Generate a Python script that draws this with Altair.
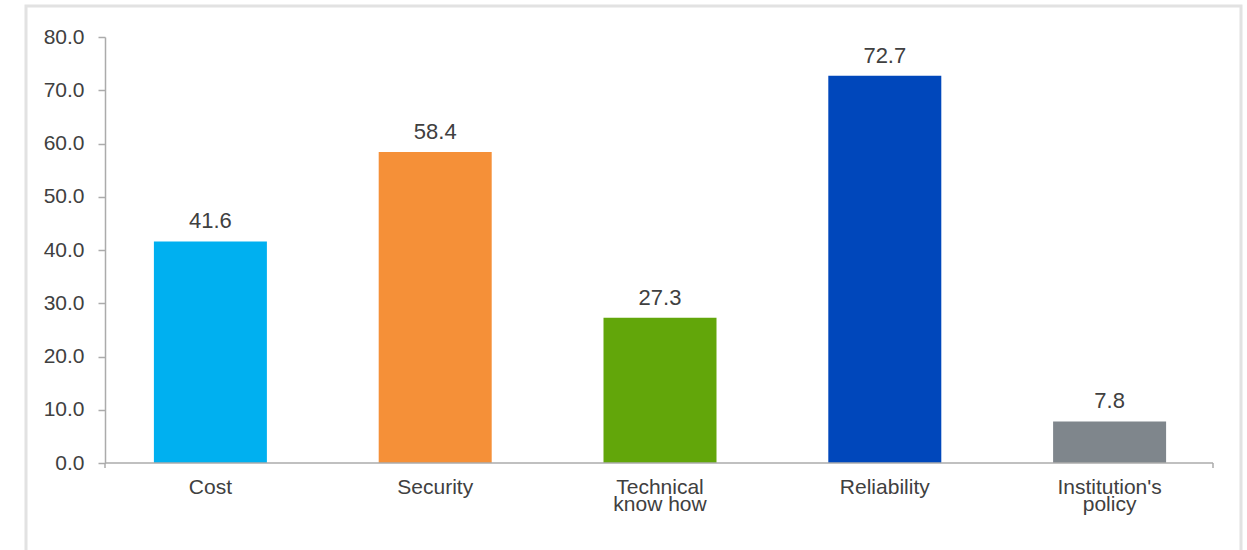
import altair as alt
import pandas as pd

categories = ["Cost", "Security", "Technical know how", "Reliability", "Institution's policy"]
values = [41.6, 58.4, 27.3, 72.7, 7.8]
colors = ["#00b0f0", "#f59038", "#62a60a", "#0047bb", "#7f868c"]
y_ticks = [0, 10, 20, 30, 40, 50, 60, 70, 80]

df = pd.DataFrame({"category": categories, "value": values, "color": colors})

W, H = 1108, 426
FONT = "Liberation Sans"
TXT = "#404040"
AX = "#ababab"

label_expr = ("datum.value == 'Technical know how' ? ['Technical', 'know how'] : "
              "datum.value == \"Institution's policy\" ? [\"Institution's\", 'policy'] : datum.value")

x_enc = alt.X("category:N", sort=categories,
              scale=alt.Scale(range=[-7, 1117], paddingInner=0, paddingOuter=0),
              axis=alt.Axis(title=None, domain=False, ticks=False, labelAngle=0,
                            labelFont=FONT, labelFontSize=21, labelColor=TXT,
                            labelPadding=13, labelLineHeight=17, labelExpr=label_expr))
y_enc = alt.Y("value:Q", scale=alt.Scale(domain=[0, 80], nice=False),
              axis=alt.Axis(title=None, values=y_ticks, format=".1f", grid=False,
                            domainColor=AX, domainWidth=1.5, tickColor=AX, tickWidth=1.5,
                            tickSize=7, labelPadding=14, labelFont=FONT, labelFontSize=21,
                            labelColor=TXT))

bars = alt.Chart(df).mark_bar(size=113).encode(
    x=x_enc, y=y_enc,
    color=alt.Color("color:N", scale=None),
)

texts = alt.Chart(df).mark_text(baseline="alphabetic", dy=-13, font=FONT, fontSize=22,
                                color=TXT).encode(
    x=x_enc, y=y_enc,
    text=alt.Text("value:Q", format=".1f"),
)

one = pd.DataFrame({"a": [0]})

frame = alt.Chart(one).mark_rect(
    fill=None, stroke="#e2e2e2", strokeWidth=3).encode(
    x=alt.value(-79), x2=alt.value(1136), y=alt.value(-31), y2=alt.value(560))

xaxis = alt.Chart(one).mark_rule(color=AX, strokeWidth=1.5).encode(
    x=alt.value(0), x2=alt.value(W), y=alt.value(H), y2=alt.value(H))
tick_l = alt.Chart(one).mark_rule(color=AX, strokeWidth=1.5).encode(
    x=alt.value(0), y=alt.value(H), y2=alt.value(H + 5))
tick_r = alt.Chart(one).mark_rule(color=AX, strokeWidth=1.5).encode(
    x=alt.value(W), y=alt.value(H), y2=alt.value(H + 5))

chart = alt.layer(bars, texts, frame, xaxis, tick_l, tick_r).properties(
    width=W, height=H,
    autosize=alt.AutoSizeParams(type="none"),
    padding={"left": 105, "top": 37, "right": 34, "bottom": 87},
).configure(background="white", view=alt.ViewConfig(strokeWidth=0))

chart.save("out.html", embed_options={"renderer": "svg", "actions": False})
